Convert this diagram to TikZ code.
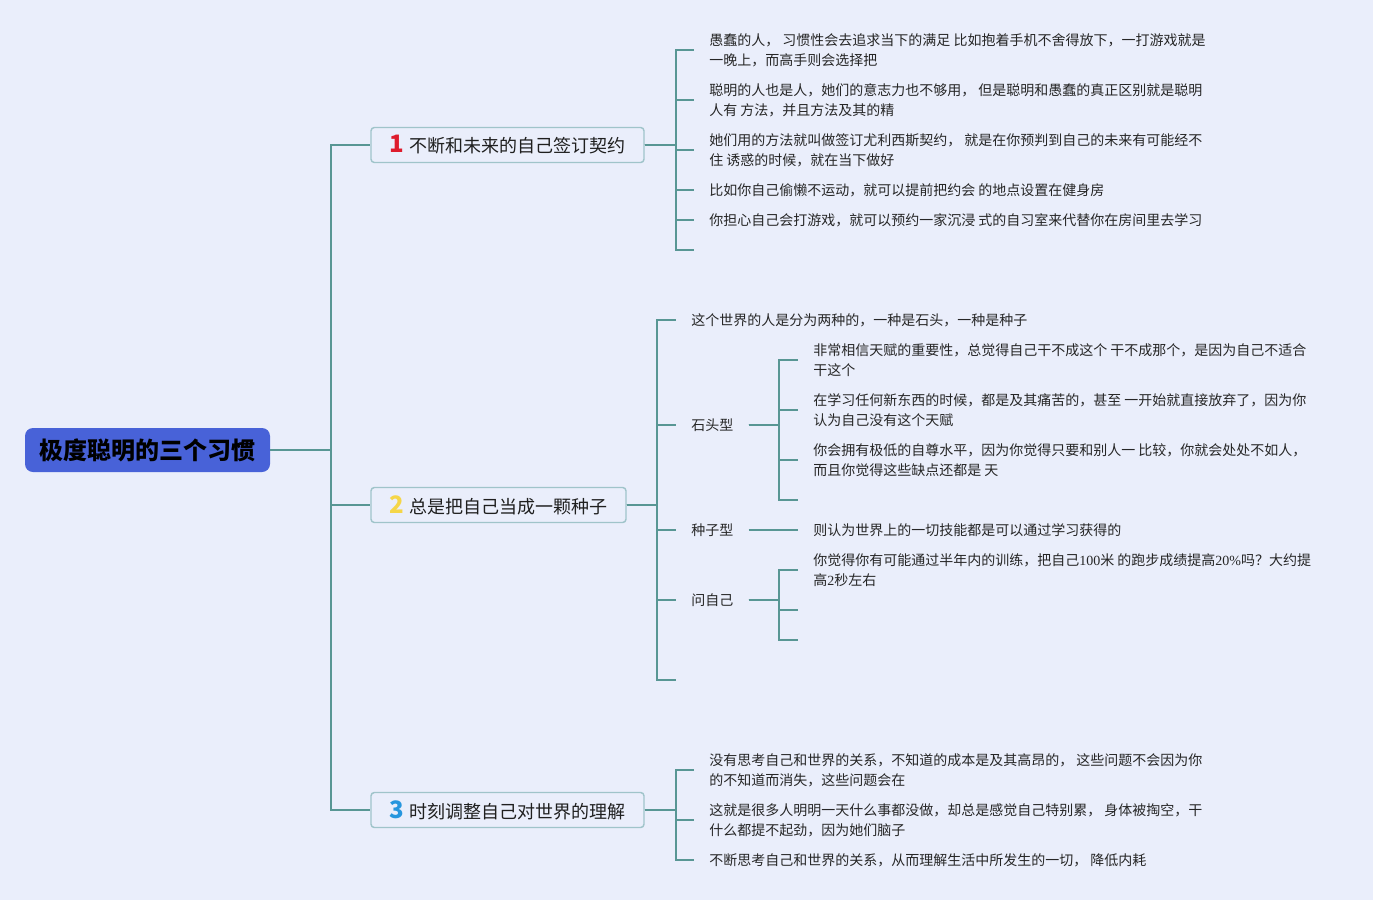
\documentclass[tikz,border=0pt]{standalone}
\usepackage{fontspec}
\setmainfont{Noto Sans CJK SC}
\newfontfamily\numfont{Liberation Serif}
\definecolor{bgcol}{RGB}{234,238,251}
\definecolor{linecol}{RGB}{88,150,148}
\definecolor{boxline}{RGB}{160,196,202}
\definecolor{rootblue}{RGB}{72,98,216}
\definecolor{numred}{RGB}{222,28,45}
\definecolor{numyellow}{RGB}{245,214,72}
\definecolor{numblue}{RGB}{38,150,222}
\definecolor{leaftext}{RGB}{38,38,38}
\newcommand{\topicnum}[2]{{\fontsize{18}{18}\selectfont\bfseries\color{#1}#2}\hspace{4pt}}

\begin{document}
\begin{tikzpicture}[x=0.75pt,y=-0.75pt,
  line/.style={draw=linecol,line width=1.5pt},
  leaf/.style={anchor=west,align=left,inner xsep=11.25pt,inner ysep=0pt,font=\fontsize{10.5}{15}\selectfont,text=leaftext},
  topic/.style={draw=boxline,line width=1.1pt,rounded corners=2.5pt,fill=bgcol,minimum height=26.25pt,font=\fontsize{13.5}{16}\selectfont,text=black!88}]
\fill[bgcol] (0,0) rectangle (1373,900);
\useasboundingbox (0,0) rectangle (1373,900);

\node[fill=rootblue,rounded corners=6pt,minimum width=183.75pt,minimum height=33pt,font=\fontsize{18}{22}\selectfont\bfseries] (root) at (147.5,450) {极度聪明的三个习惯};
\node[topic,minimum width=204.75pt] (b1) at (507.5,145) {\topicnum{numred}{1}不断和未来的自己签订契约};
\node[topic,minimum width=191.25pt] (b2) at (498.5,505) {\topicnum{numyellow}{2}总是把自己当成一颗种子};
\node[topic,minimum width=204.75pt] (b3) at (507.5,810) {\topicnum{numblue}{3}时刻调整自己对世界的理解};

\node[leaf] (l11) at (694,50) {愚蠢的人， 习惯性会去追求当下的满足 比如抱着手机不舍得放下，一打游戏就是\\一晚上，而高手则会选择把};
\node[leaf] (l12) at (694,100) {聪明的人也是人，她们的意志力也不够用， 但是聪明和愚蠢的真正区别就是聪明\\人有 方法，并且方法及其的精};
\node[leaf] (l13) at (694,150) {她们用的方法就叫做签订尤利西斯契约， 就是在你预判到自己的未来有可能经不\\住 诱惑的时候，就在当下做好};
\node[leaf] (l14) at (694,190) {比如你自己偷懒不运动，就可以提前把约会 的地点设置在健身房};
\node[leaf] (l15) at (694,220) {你担心自己会打游戏，就可以预约一家沉浸 式的自习室来代替你在房间里去学习};
\coordinate (l16) at (694,250);

\node[leaf] (l21) at (676,320) {这个世界的人是分为两种的，一种是石头，一种是种子};
\node[leaf] (s1) at (676,425) {石头型};
\node[leaf] (z1) at (676,530) {种子型};
\node[leaf] (w1) at (676,600) {问自己};
\coordinate (l25) at (676,680);

\node[leaf] (s11) at (798,360) {非常相信天赋的重要性，总觉得自己干不成这个 干不成那个，是因为自己不适合\\干这个};
\node[leaf] (s12) at (798,410) {在学习任何新东西的时候，都是及其痛苦的，甚至 一开始就直接放弃了，因为你\\认为自己没有这个天赋};
\node[leaf] (s13) at (798,460) {你会拥有极低的自尊水平，因为你觉得只要和别人一 比较，你就会处处不如人，\\而且你觉得这些缺点还都是 天};
\coordinate (s14) at (798,500);
\node[leaf] (z11) at (798,530) {则认为世界上的一切技能都是可以通过学习获得的};
\node[leaf] (w11) at (798,570) {你觉得你有可能通过半年内的训练，把自己{\numfont 100}米 的跑步成绩提高{\numfont 20\%}吗？大约提\\高{\numfont 2}秒左右};
\coordinate (w12) at (798,610);
\coordinate (w13) at (798,640);

\node[leaf] (l31) at (694,770) {没有思考自己和世界的关系，不知道的成本是及其高昂的， 这些问题不会因为你\\的不知道而消失，这些问题会在};
\node[leaf] (l32) at (694,820) {这就是很多人明明一天什么事都没做，却总是感觉自己特别累， 身体被掏空，干\\什么都提不起劲，因为她们脑子};
\node[leaf] (l33) at (694,860) {不断思考自己和世界的关系，从而理解生活中所发生的一切， 降低内耗};

\foreach \n in {b1,b2,b3}
  \draw[line] (root.east) -- ++(61,0) |- (\n);
\foreach \n in {l11,l12,l13,l14,l15,l16}
  \draw[line] (b1.east) -- ++(31,0) |- (\n);
\foreach \n in {l21,s1,z1,w1,l25}
  \draw[line] (b2.east) -- ++(30,0) |- (\n);
\foreach \n in {s11,s12,s13,s14}
  \draw[line] (s1.east) -- ++(30,0) |- (\n);
\draw[line] (z1) -- (z11);
\foreach \n in {w11,w12,w13}
  \draw[line] (w1.east) -- ++(30,0) |- (\n);
\foreach \n in {l31,l32,l33}
  \draw[line] (b3.east) -- ++(31,0) |- (\n);
\end{tikzpicture}
\end{document}
